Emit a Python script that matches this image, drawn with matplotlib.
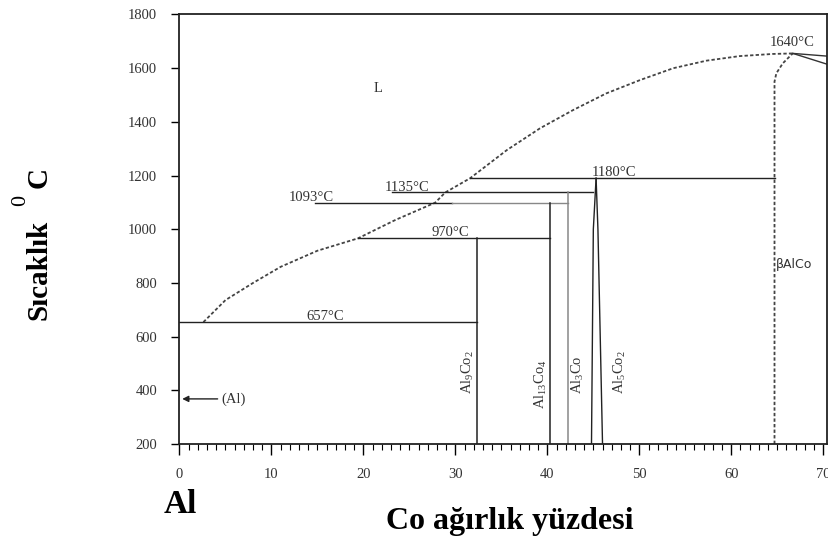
import numpy as np
import matplotlib
matplotlib.use("Agg")
import matplotlib.pyplot as plt

# liquidus (dashed)
LIQ_X = [2.6, 5.0, 8.0, 11.0, 15.0, 19.4, 23.5, 27.8, 28.9, 31.6, 35.6, 39.2,
         42.8, 46.4, 50.1, 53.7, 57.3, 60.9, 64.5, 66.7]
LIQ_T = [654, 736, 800, 860, 920, 966, 1035, 1099, 1137, 1190, 1295, 1376,
         1444, 1506, 1556, 1600, 1628, 1645, 1653, 1655]

# beta AlCo boundary (dashed)
BETA_X = [64.7, 64.7, 64.9, 65.6, 66.5, 66.7]
BETA_T = [200, 1550, 1581, 1618, 1649, 1655]

# solid lines leaving the 1640 maximum to the right
RIGHT_X = [[66.7, 70.4], [66.7, 70.4]]
RIGHT_T = [[1655, 1645], [1655, 1615]]

# isotherms: label, x start, x end, temperature on the picture
ISO_LABELS = ["657°C", "970°C", "1093°C", "1135°C", "1180°C"]
ISO_X0 = [0.0, 19.4, 14.7, 23.1, 31.6]
ISO_X1 = [32.3, 40.3, 29.6, 45.0, 64.7]
ISO_T = [655, 966, 1098, 1137, 1190]
ISO_LABEL_X = [15.8, 29.5, 14.3, 24.8, 47.2]

# grey continuation of the 1093 line
GREY_X = [29.6, 42.3]
GREY_T = [1096, 1096]

# compounds: vertical lines
PHASE_X = [32.3, 40.3, 42.3]
PHASE_TOP = [966, 1098, 1137]
PHASE_COLOR = ["#222222", "#222222", "#888888"]

# Al5Co2 narrow field
AL5_LEFT_X = [44.8, 45.0, 45.3]
AL5_RIGHT_X = [46.0, 45.5, 45.3]
AL5_T = [200, 1000, 1190]

PHASE_NAMES = [r"Al$_9$Co$_2$", r"Al$_{13}$Co$_4$", r"Al$_3$Co", r"Al$_5$Co$_2$"]
PHASE_LABEL_X = [31.4, 39.3, 43.3, 47.9]
PHASE_LABEL_T = [468, 424, 458, 467]

X_TICKS = [0, 10, 20, 30, 40, 50, 60, 70]
Y_TICKS = [200, 400, 600, 800, 1000, 1200, 1400, 1600, 1800]


def main():
    plt.rcParams["font.family"] = ["Liberation Serif", "DejaVu Serif"]
    plt.rcParams["mathtext.fontset"] = "custom"
    plt.rcParams["mathtext.rm"] = "Liberation Serif"
    plt.rcParams["mathtext.it"] = "Liberation Serif"
    plt.rcParams["mathtext.bf"] = "Liberation Serif:bold"
    plt.rcParams["lines.scale_dashes"] = False

    fig = plt.figure(figsize=(8.29, 5.47), dpi=100)
    ax = fig.add_axes([0.2165, 0.1883, 0.781, 0.7852])

    dash_kw = dict(color="#444444", lw=1.3, dashes=(2.4, 1.6))
    ax.plot(LIQ_X, LIQ_T, **dash_kw)
    ax.plot(BETA_X, BETA_T, **dash_kw)
    for xs, ts in zip(RIGHT_X, RIGHT_T):
        ax.plot(xs, ts, color="#333333", lw=1.0)

    txt_kw = dict(fontsize=10.5, color="#333333")
    for lab, x0, x1, t, lx in zip(ISO_LABELS, ISO_X0, ISO_X1, ISO_T, ISO_LABEL_X):
        ax.plot([x0, x1], [t, t], color="#222222", lw=1.0)
        ax.text(lx, t - 4, lab, ha="center", va="bottom", **txt_kw)
    ax.plot(GREY_X, GREY_T, color="#888888", lw=1.0)

    for x, top, c in zip(PHASE_X, PHASE_TOP, PHASE_COLOR):
        ax.plot([x, x], [200, top], color=c, lw=1.1)
    ax.plot(AL5_LEFT_X, AL5_T, color="#222222", lw=1.0)
    ax.plot(AL5_RIGHT_X, AL5_T, color="#222222", lw=1.0)

    for name, x, t in zip(PHASE_NAMES, PHASE_LABEL_X, PHASE_LABEL_T):
        ax.text(x, t, name, rotation=90, ha="center", va="center", **txt_kw)

    ax.text(66.6, 1694, "1640°C", ha="center", va="center", **txt_kw)
    ax.text(21.6, 1526, "L", ha="center", va="center", **txt_kw)
    ax.text(64.8, 867, "βAlCo", ha="left", va="center", fontsize=9,
            color="#333333", family=["DejaVu Sans"])
    ax.annotate("(Al)", xy=(0.3, 368), xytext=(4.6, 368), ha="left", va="center",
                arrowprops=dict(arrowstyle="-|>", color="#222222", lw=1.0,
                                mutation_scale=9, shrinkA=1, shrinkB=0),
                **txt_kw)

    ax.set_xlim(0, 70.4)
    ax.set_ylim(200, 1800)
    ax.set_xticks(X_TICKS)
    ax.set_xticks(np.arange(0, 71, 1), minor=True)
    ax.set_yticks(Y_TICKS)
    ax.tick_params(axis="x", which="major", length=8, width=1.0, pad=9,
                   labelsize=10.5, labelcolor="#333333")
    ax.tick_params(axis="x", which="minor", length=4, width=0.8)
    ax.tick_params(axis="y", length=6, width=1.0, pad=10, labelsize=10.5,
                   labelcolor="#333333")
    for s in ax.spines.values():
        s.set_linewidth(1.3)
        s.set_color("#222222")

    # y label in pieces: raised "0" is nearly full size
    fig.text(0.047, 0.507, "Sıcaklık", rotation=90, ha="center", va="center",
             fontsize=21, fontweight="bold")
    fig.text(0.025, 0.633, "0", rotation=90, ha="center", va="center",
             fontsize=16)
    fig.text(0.047, 0.675, "C", rotation=90, ha="center", va="center",
             fontsize=21, fontweight="bold")

    fig.text(0.217, 0.077, "Al", ha="center", va="center", fontsize=24,
             fontweight="bold")
    fig.text(0.615, 0.046, "Co ağırlık yüzdesi", ha="center", va="center",
             fontsize=23, fontweight="bold")

    fig.savefig("out.png", dpi=100)
    plt.close(fig)


if __name__ == "__main__":
    main()
